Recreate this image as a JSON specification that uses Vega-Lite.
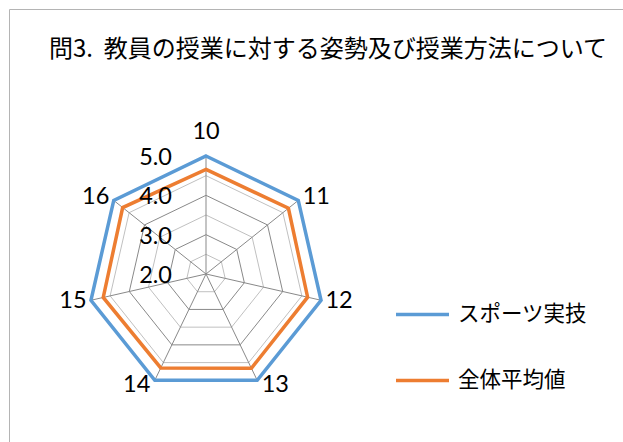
{
  "$schema": "https://vega.github.io/schema/vega-lite/v6.json",
  "width": 620,
  "height": 440,
  "autosize": "none",
  "padding": {"left": 9, "top": 9, "right": 0, "bottom": 0},
  "background": "white",
  "title": {
    "text": "問3.\u00a0\u00a0教員の授業に対する姿勢及び授業方法について",
    "anchor": "middle",
    "frame": "group",
    "offset": -65,
    "dx": 9,
    "baseline": "middle",
    "font": "Noto Sans CJK JP",
    "fontSize": 24,
    "fontWeight": "normal",
    "color": "#000000"
  },
  "datasets": {
    "scores": [
      {"item": "10", "series": "スポーツ実技", "value": 5.0},
      {"item": "11", "series": "スポーツ実技", "value": 5.0},
      {"item": "12", "series": "スポーツ実技", "value": 5.0},
      {"item": "13", "series": "スポーツ実技", "value": 5.0},
      {"item": "14", "series": "スポーツ実技", "value": 5.0},
      {"item": "15", "series": "スポーツ実技", "value": 5.0},
      {"item": "16", "series": "スポーツ実技", "value": 5.0},
      {"item": "10", "series": "全体平均値", "value": 4.66},
      {"item": "11", "series": "全体平均値", "value": 4.68},
      {"item": "12", "series": "全体平均値", "value": 4.65},
      {"item": "13", "series": "全体平均値", "value": 4.66},
      {"item": "14", "series": "全体平均値", "value": 4.65},
      {"item": "15", "series": "全体平均値", "value": 4.68},
      {"item": "16", "series": "全体平均値", "value": 4.71}
    ],
    "items": [
      {"item": "10"}, {"item": "11"}, {"item": "12"}, {"item": "13"},
      {"item": "14"}, {"item": "15"}, {"item": "16"}
    ],
    "ticks": [{"v": 2}, {"v": 3}, {"v": 4}, {"v": 5}],
    "grid": [
      {"level": 2.5, "item": "10"}, {"level": 2.5, "item": "11"}, {"level": 2.5, "item": "12"}, {"level": 2.5, "item": "13"}, {"level": 2.5, "item": "14"}, {"level": 2.5, "item": "15"}, {"level": 2.5, "item": "16"},
      {"level": 3.0, "item": "10"}, {"level": 3.0, "item": "11"}, {"level": 3.0, "item": "12"}, {"level": 3.0, "item": "13"}, {"level": 3.0, "item": "14"}, {"level": 3.0, "item": "15"}, {"level": 3.0, "item": "16"},
      {"level": 3.5, "item": "10"}, {"level": 3.5, "item": "11"}, {"level": 3.5, "item": "12"}, {"level": 3.5, "item": "13"}, {"level": 3.5, "item": "14"}, {"level": 3.5, "item": "15"}, {"level": 3.5, "item": "16"},
      {"level": 4.0, "item": "10"}, {"level": 4.0, "item": "11"}, {"level": 4.0, "item": "12"}, {"level": 4.0, "item": "13"}, {"level": 4.0, "item": "14"}, {"level": 4.0, "item": "15"}, {"level": 4.0, "item": "16"},
      {"level": 4.5, "item": "10"}, {"level": 4.5, "item": "11"}, {"level": 4.5, "item": "12"}, {"level": 4.5, "item": "13"}, {"level": 4.5, "item": "14"}, {"level": 4.5, "item": "15"}, {"level": 4.5, "item": "16"},
      {"level": 5.0, "item": "10"}, {"level": 5.0, "item": "11"}, {"level": 5.0, "item": "12"}, {"level": 5.0, "item": "13"}, {"level": 5.0, "item": "14"}, {"level": 5.0, "item": "15"}, {"level": 5.0, "item": "16"}
    ]
  },
  "layer": [
    {
      "data": {"name": "grid"},
      "transform": [
        {"filter": "datum.level % 1 != 0"},
        {"calculate": "(toNumber(datum.item) - 10) * 2 * PI / 7", "as": "a"},
        {"calculate": "(datum.level - 2) / 3 * sin(datum.a)", "as": "px"},
        {"calculate": "(datum.level - 2) / 3 * cos(datum.a)", "as": "py"}
      ],
      "mark": {"type": "line", "interpolate": "linear-closed", "stroke": "#c0c0c0", "strokeWidth": 1},
      "encoding": {
        "x": {"field": "px", "type": "quantitative", "scale": {"domain": [-1.6695, 3.5847], "nice": false, "zero": false}, "axis": null},
        "y": {"field": "py", "type": "quantitative", "scale": {"domain": [-1.4831, 2.2458], "nice": false, "zero": false}, "axis": null},
        "detail": {"field": "level", "type": "nominal"},
        "order": {"field": "a", "type": "quantitative"}
      }
    },
    {
      "data": {"name": "grid"},
      "transform": [
        {"filter": "datum.level % 1 == 0"},
        {"calculate": "(toNumber(datum.item) - 10) * 2 * PI / 7", "as": "a"},
        {"calculate": "(datum.level - 2) / 3 * sin(datum.a)", "as": "px"},
        {"calculate": "(datum.level - 2) / 3 * cos(datum.a)", "as": "py"}
      ],
      "mark": {"type": "line", "interpolate": "linear-closed", "stroke": "#898989", "strokeWidth": 1},
      "encoding": {
        "x": {"field": "px", "type": "quantitative", "scale": {"domain": [-1.6695, 3.5847], "nice": false, "zero": false}, "axis": null},
        "y": {"field": "py", "type": "quantitative", "scale": {"domain": [-1.4831, 2.2458], "nice": false, "zero": false}, "axis": null},
        "detail": {"field": "level", "type": "nominal"},
        "order": {"field": "a", "type": "quantitative"}
      }
    },
    {
      "data": {"name": "items"},
      "transform": [
        {"calculate": "(toNumber(datum.item) - 10) * 2 * PI / 7", "as": "a"},
        {"calculate": "sin(datum.a)", "as": "ex"},
        {"calculate": "cos(datum.a)", "as": "ey"},
        {"calculate": "0", "as": "zx"}
      ],
      "mark": {"type": "rule", "stroke": "#898989", "strokeWidth": 1},
      "encoding": {
        "x": {"field": "ex", "type": "quantitative", "scale": {"domain": [-1.6695, 3.5847], "nice": false, "zero": false}, "axis": null},
        "y": {"field": "ey", "type": "quantitative", "scale": {"domain": [-1.4831, 2.2458], "nice": false, "zero": false}, "axis": null},
        "x2": {"field": "zx"},
        "y2": {"field": "zx"}
      }
    },
    {
      "data": {"name": "scores"},
      "transform": [
        {"calculate": "(toNumber(datum.item) - 10) * 2 * PI / 7", "as": "a"},
        {"calculate": "(datum.value - 2) / 3 * sin(datum.a)", "as": "px"},
        {"calculate": "(datum.value - 2) / 3 * cos(datum.a)", "as": "py"}
      ],
      "mark": {"type": "line", "interpolate": "linear-closed", "strokeWidth": 3.5, "strokeJoin": "miter"},
      "encoding": {
        "x": {"field": "px", "type": "quantitative", "scale": {"domain": [-1.6695, 3.5847], "nice": false, "zero": false}, "axis": null},
        "y": {"field": "py", "type": "quantitative", "scale": {"domain": [-1.4831, 2.2458], "nice": false, "zero": false}, "axis": null},
        "color": {
          "field": "series",
          "type": "nominal",
          "scale": {"domain": ["スポーツ実技", "全体平均値"], "range": ["#5b9bd5", "#ed7d31"]},
          "legend": {
            "title": null,
            "orient": "none",
            "legendX": 385,
            "legendY": 277,
            "padding": 0,
            "symbolType": "stroke",
            "symbolSize": 2809,
            "symbolStrokeWidth": 3.5,
            "rowPadding": 27,
            "labelOffset": 7,
            "labelFont": "Noto Sans CJK JP",
            "labelFontSize": 21.5,
            "labelColor": "#000000",
            "labelLimit": 300
          }
        },
        "order": {"field": "a", "type": "quantitative"}
      }
    },
    {
      "data": {"name": "items"},
      "transform": [
        {"calculate": "(toNumber(datum.item) - 10) * 2 * PI / 7", "as": "a"},
        {"calculate": "sin(datum.a) + (abs(sin(datum.a)) > 0.1 ? (sin(datum.a) > 0 ? 0.153 : -0.153) : 0)", "as": "lx"},
        {"calculate": "cos(datum.a) + (abs(sin(datum.a)) > 0.1 ? 0.04 * cos(datum.a) : 0.203)", "as": "ly"}
      ],
      "mark": {"type": "text", "font": "Lato", "fontSize": 23.5, "align": "center", "baseline": "middle", "color": "#000000"},
      "encoding": {
        "x": {"field": "lx", "type": "quantitative", "scale": {"domain": [-1.6695, 3.5847], "nice": false, "zero": false}, "axis": null},
        "y": {"field": "ly", "type": "quantitative", "scale": {"domain": [-1.4831, 2.2458], "nice": false, "zero": false}, "axis": null},
        "text": {"field": "item", "type": "nominal"}
      }
    },
    {
      "data": {"name": "ticks"},
      "transform": [
        {"calculate": "(datum.v - 2) / 3", "as": "ty"},
        {"calculate": "0", "as": "zx"}
      ],
      "mark": {"type": "text", "font": "Lato", "fontSize": 23.5, "align": "right", "baseline": "middle", "dx": -34, "dy": 2, "color": "#000000"},
      "encoding": {
        "x": {"field": "zx", "type": "quantitative", "scale": {"domain": [-1.6695, 3.5847], "nice": false, "zero": false}, "axis": null},
        "y": {"field": "ty", "type": "quantitative", "scale": {"domain": [-1.4831, 2.2458], "nice": false, "zero": false}, "axis": null},
        "text": {"field": "v", "type": "quantitative", "format": ".1f"}
      }
    }
  ],
  "config": {
    "view": {"stroke": "#b4b4b4", "strokeWidth": 1}
  }
}
